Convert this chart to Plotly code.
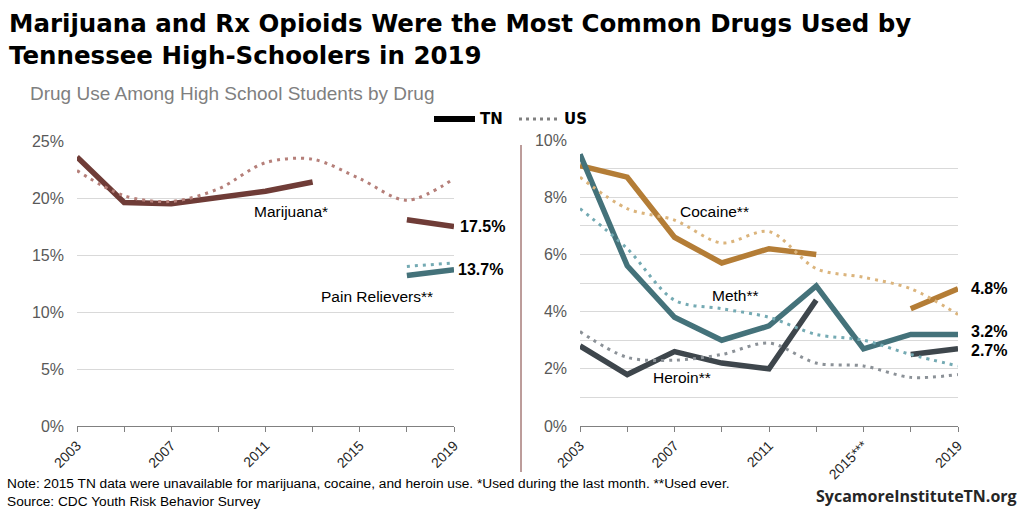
import plotly.graph_objects as go

years = [2003, 2005, 2007, 2009, 2011, 2013, 2015, 2017, 2019]

# Left panel (percent)
marijuana_tn = [23.6, 19.6, 19.5, 20.1, 20.6, 21.4, None, 18.1, 17.5]
marijuana_us = [22.4, 20.2, 19.7, 20.8, 23.1, 23.4, 21.7, 19.8, 21.7]
pain_years = [2017, 2019]
pain_tn = [13.2, 13.7]
pain_us = [14.0, 14.3]

# Right panel (percent)
cocaine_tn = [9.1, 8.7, 6.6, 5.7, 6.2, 6.0, None, 4.1, 4.8]
cocaine_us = [8.7, 7.6, 7.2, 6.4, 6.8, 5.5, 5.2, 4.8, 3.9]
meth_tn = [9.5, 5.6, 3.8, 3.0, 3.5, 4.9, 2.7, 3.2, 3.2]
meth_us = [7.6, 6.2, 4.4, 4.1, 3.8, 3.2, 3.0, 2.5, 2.1]
heroin_tn = [2.8, 1.8, 2.6, 2.2, 2.0, 4.4, None, 2.5, 2.7]
heroin_us = [3.3, 2.4, 2.3, 2.5, 2.9, 2.2, 2.1, 1.7, 1.8]

left_xticks = ["2003", "2007", "2011", "2015", "2019"]
right_xticks = ["2003", "2007", "2011", "2015***", "2019"]
xtick_vals = [2003, 2007, 2011, 2015, 2019]

W, H = 1024, 512
def px(x):
    return x / W
def py(y):
    return 1 - y / H

C_MAR, C_MAR_US = "#6f3c37", "#b57f79"
C_TEAL, C_TEAL_US = "#44727a", "#74aab3"
C_COC, C_COC_US = "#b47d36", "#dbb47c"
C_HER, C_HER_US = "#3e464c", "#8b9197"
TN_W, US_W = 5.5, 3
US_DASH = "3px,5px"

fig = go.Figure()

def tn(x, y, color, xa, ya):
    fig.add_trace(go.Scatter(x=x, y=y, mode="lines", line=dict(color=color, width=TN_W),
                             connectgaps=False, xaxis=xa, yaxis=ya, showlegend=False, hoverinfo="skip"))

def us(x, y, color, xa, ya):
    fig.add_trace(go.Scatter(x=x, y=y, mode="lines",
                             line=dict(color=color, width=US_W, dash=US_DASH, shape="spline", smoothing=0.9),
                             xaxis=xa, yaxis=ya, showlegend=False, hoverinfo="skip"))

tn(years, marijuana_tn, C_MAR, "x", "y")
tn(pain_years, pain_tn, C_TEAL, "x", "y")
us(years, marijuana_us, C_MAR_US, "x", "y")
us(pain_years, pain_us, C_TEAL_US, "x", "y")

tn(years, cocaine_tn, C_COC, "x2", "y2")
tn(years, meth_tn, C_TEAL, "x2", "y2")
tn(years, heroin_tn, C_HER, "x2", "y2")
us(years, cocaine_us, C_COC_US, "x2", "y2")
us(years, meth_us, C_TEAL_US, "x2", "y2")
us(years, heroin_us, C_HER_US, "x2", "y2")

FONT = "Liberation Sans, Arial, sans-serif"
TITLE_FONT = "DejaVu Sans, sans-serif"
xaxis_common = dict(range=[2003, 2019], tickvals=xtick_vals, tickangle=-45, automargin=False,
                    showgrid=False, zeroline=False, showline=True, linecolor="#808080", linewidth=1,
                    ticks="outside", ticklen=5, tickcolor="#808080",
                    minor=dict(tickvals=years, ticks="outside", ticklen=5, tickcolor="#808080"),
                    tickfont=dict(family=FONT, size=14, color="#262626"), fixedrange=True)
yaxis_common = dict(showgrid=True, gridcolor="#d9d9d9", gridwidth=1, zeroline=False, showline=False,
                    ticks="", ticklabelstandoff=12, automargin=False,
                    tickfont=dict(family=FONT, size=16, color="#595959"), fixedrange=True)

fig.update_layout(
    width=W, height=H, margin=dict(l=0, r=0, t=0, b=0, autoexpand=False),
    paper_bgcolor="white", plot_bgcolor="white",
    xaxis=dict(domain=[px(77), px(454)], ticktext=left_xticks, anchor="y", **xaxis_common),
    yaxis=dict(domain=[py(426), py(141)], range=[0, 25], tickvals=[0, 5, 10, 15, 20, 25],
               ticktext=["0%", "5%", "10%", "15%", "20%", "25%"], anchor="x", **yaxis_common),
    xaxis2=dict(domain=[px(580), px(958)], ticktext=right_xticks, anchor="y2", **xaxis_common),
    yaxis2=dict(domain=[py(426), py(140)], range=[0, 10], tickvals=list(range(0, 11)),
                ticktext=["0%", "", "2%", "", "4%", "", "6%", "", "8%", "", "10%"], anchor="x2", **yaxis_common),
)

ann = []
# Title / subtitle
ann.append(dict(text="<b>Marijuana and Rx Opioids Were the Most Common Drugs Used by<br>Tennessee High-Schoolers in 2019</b>",
                x=px(7), y=py(7), xref="paper", yref="paper", xanchor="left", yanchor="top", align="left",
                showarrow=False, font=dict(family=TITLE_FONT, size=24.5, color="#000000")))
ann.append(dict(text="Drug Use Among High School Students by Drug", x=px(28), y=py(93), xref="paper", yref="paper",
                xanchor="left", yanchor="middle", showarrow=False, font=dict(family=FONT, size=19, color="#7f7f7f")))
# Legend
ann.append(dict(text="<b>TN</b>", x=px(478), y=py(119), xref="paper", yref="paper", xanchor="left", yanchor="middle",
                showarrow=False, font=dict(family=TITLE_FONT, size=15, color="#000000")))
ann.append(dict(text="<b>US</b>", x=px(562), y=py(119), xref="paper", yref="paper", xanchor="left", yanchor="middle",
                showarrow=False, font=dict(family=TITLE_FONT, size=15, color="#000000")))

# Series labels
def lab(text, x, y, xr, yr, bold=False, xanchor="center", xshift=0):
    ann.append(dict(text=f"<b>{text}</b>" if bold else text, x=x, y=y, xref=xr, yref=yr, xanchor=xanchor,
                    yanchor="middle", xshift=xshift, showarrow=False,
                    font=dict(family=FONT, size=16 if bold else 15.5, color="#000000")))

lab("Marijuana*", 2012.1, 18.8, "x", "y")
lab("Pain Relievers**", 2015.75, 11.4, "x", "y")
lab(f"{marijuana_tn[-1]}%", 2019, marijuana_tn[-1], "x", "y", bold=True, xanchor="left", xshift=4)
lab(f"{pain_tn[-1]}%", 2019, pain_tn[-1], "x", "y", bold=True, xanchor="left", xshift=2)
lab("Cocaine**", 2008.7, 7.5, "x2", "y2")
lab("Meth**", 2009.6, 4.55, "x2", "y2")
lab("Heroin**", 2007.3, 1.68, "x2", "y2")
lab(f"{cocaine_tn[-1]}%", 2019, cocaine_tn[-1], "x2", "y2", bold=True, xanchor="left", xshift=11)
lab(f"{meth_tn[-1]}%", 2019, meth_tn[-1] + 0.1, "x2", "y2", bold=True, xanchor="left", xshift=11)
lab(f"{heroin_tn[-1]}%", 2019, heroin_tn[-1] - 0.05, "x2", "y2", bold=True, xanchor="left", xshift=11)

# Footer
ann.append(dict(text="Note: 2015 TN data were unavailable for marijuana, cocaine, and heroin use. *Used during the last month. **Used ever.<br>Source: CDC Youth Risk Behavior Survey",
                x=px(5), y=py(474), xref="paper", yref="paper", xanchor="left", yanchor="top", align="left",
                showarrow=False, font=dict(family="Liberation Sans Narrow, Arial Narrow, sans-serif", size=13.7, color="#000000")))
ann.append(dict(text="<b>SycamoreInstituteTN.org</b>", x=px(1019), y=py(496), xref="paper", yref="paper",
                xanchor="right", yanchor="middle", showarrow=False,
                font=dict(family="Open Sans, sans-serif", size=16, color="#262626")))

fig.update_layout(annotations=ann)

shapes = [
    dict(type="line", xref="paper", yref="paper", x0=px(521), x1=px(521), y0=py(145), y1=py(472),
         line=dict(color="#7b3a36", width=1)),
    dict(type="line", xref="paper", yref="paper", x0=px(434), x1=px(475), y0=py(119), y1=py(119),
         line=dict(color="#000000", width=6)),
    dict(type="line", xref="paper", yref="paper", x0=px(519), x1=px(560), y0=py(119), y1=py(119),
         line=dict(color="#808080", width=3, dash="3px,4px")),
]
fig.update_layout(shapes=shapes)

fig.write_html("out.html")
